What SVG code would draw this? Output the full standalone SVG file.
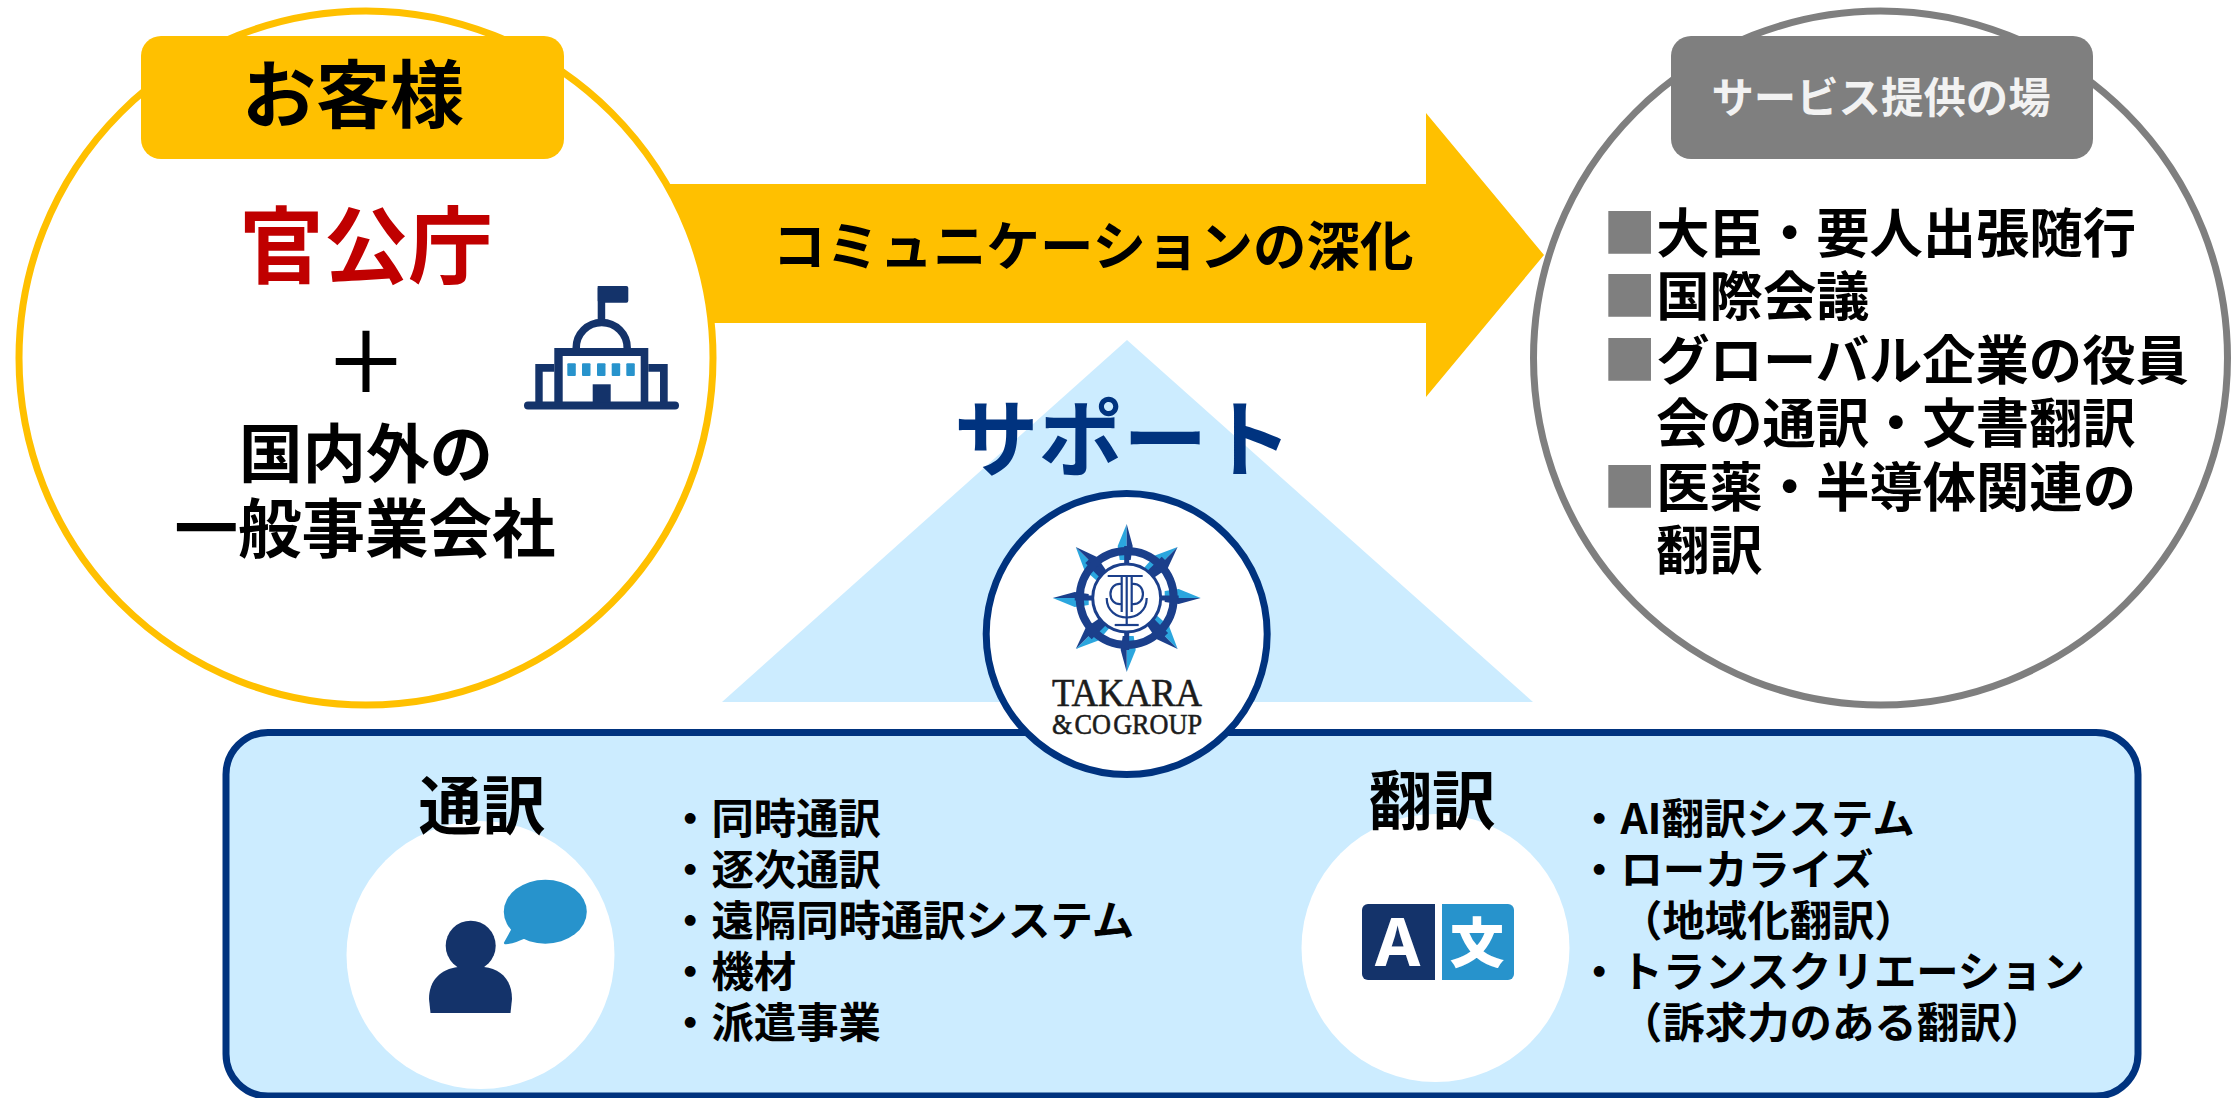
<svg xmlns="http://www.w3.org/2000/svg" width="2232" height="1098" viewBox="0 0 2232 1098">
<style>
text{font-family:"Noto Sans CJK JP","Noto Sans",sans-serif;font-weight:700;fill:#000}
.m{text-anchor:middle}
.l{font-size:42.4px}
.r{font-size:53.3px}
.g{fill:#7F7F7F}
.navy{fill:#14336A}
.blue{fill:#2793CC}
.lk{fill:#1B3F8B}
.ll{fill:#2BA6DE}
.serif{font-family:"Liberation Serif",serif;font-weight:400;fill:#1c1c1c;stroke:#1c1c1c;stroke-width:.6px}
</style>
<defs>
<g id="spoke"><polygon class="ll" points="0,-74 -9,-52 -7,-38 0,-38"/><polygon class="lk" points="0,-74 6,-52 4,-38 0,-38"/><rect class="lk" x="-2.500" y="-52" width="5" height="18"/></g>
<g id="diag"><polygon class="ll" points="0,-72 -10,-50 -9,-34 0,-34"/><polygon class="lk" points="0,-72 8,-50 5,-34 0,-34"/><rect class="lk" x="-4.500" y="-54" width="9" height="20"/></g>
</defs>
<rect width="2232" height="1098" fill="#fff"/>
<g id="connectors">
<polygon id="arrow" fill="#FFC000" points="660,184 1426,184 1426,113 1544,255 1426,397 1426,323 660,323"/>
</g>
<g id="customer">
<circle cx="366" cy="358" r="347" fill="#fff" stroke="#FFC000" stroke-width="7"/>
<rect x="141" y="36" width="423" height="123" rx="20" fill="#FFC000"/>
<text class="m" x="353" y="122" style="font-size:74px">お客様</text>
<text class="m" x="366" y="277" style="font-size:84.5px;fill:#C00000">官公庁</text>
<text class="m" x="366" y="393" style="font-size:84px;font-weight:500">＋</text>
<text class="m" x="366" y="477" style="font-size:63.500px">国内外の</text>
<text class="m" x="365" y="552" style="font-size:63.500px">一般事業会社</text>
<g id="building-icon">
<rect class="navy" x="597.7" y="286" width="7.5" height="36"/>
<rect class="navy" x="597.7" y="286" width="30.6" height="16.7" rx="2"/>
<path d="M576.2 348A25.5 25.5 0 0 1 627.2 348" fill="none" stroke="#14336A" stroke-width="7.5"/>
<path class="navy" fill-rule="evenodd" d="M554.3 348H648.3V402H554.3ZM562.7 356V402H640.7V356Z"/>
<path class="navy" fill-rule="evenodd" d="M535.3 364H554.3V402H535.3ZM542.7 371.7V402H554.3V371.7Z"/>
<path class="navy" fill-rule="evenodd" d="M648.3 364H667.7V402H648.3ZM648.3 371.7V402H660V371.7Z"/>
<rect class="navy" x="524" y="401.5" width="155" height="8" rx="4"/>
<rect class="navy" x="592.7" y="384.3" width="18" height="18"/>
<rect class="blue" x="567.3" y="363.3" width="8.5" height="12.7" rx="1"/>
<rect class="blue" x="582" y="363.3" width="8.5" height="12.7" rx="1"/>
<rect class="blue" x="597" y="363.3" width="8.5" height="12.7" rx="1"/>
<rect class="blue" x="611.7" y="363.3" width="8.5" height="12.7" rx="1"/>
<rect class="blue" x="626.3" y="363.3" width="8.5" height="12.7" rx="1"/>
</g>
</g>
<g id="venue">
<circle cx="1880.5" cy="358" r="347" fill="#fff" stroke="#7F7F7F" stroke-width="7"/>
<rect x="1671" y="36" width="422" height="123" rx="20" fill="#7F7F7F"/>
<text class="m" x="1881" y="113" style="font-size:42.4px;fill:#F2F2F2">サービス提供の場</text>
<text class="r" x="1603" y="253"><tspan class="g">■</tspan>大臣・要人出張随行</text>
<text class="r" x="1603" y="316"><tspan class="g">■</tspan>国際会議</text>
<text class="r" x="1603" y="380"><tspan class="g">■</tspan>グローバル企業の役員</text>
<text class="r" x="1656" y="443">会の通訳・文書翻訳</text>
<text class="r" x="1603" y="507"><tspan class="g">■</tspan>医薬・半導体関連の</text>
<text class="r" x="1656" y="570">翻訳</text>
</g>
<g id="comm-label">
<text class="m" x="1093" y="266" style="font-size:53.5px">コミュニケーションの深化</text>
</g>
<g id="support">
<polygon fill="#CCECFF" points="1127,340 1533,702 722,702"/>
<text class="m" x="1123" y="470" style="font-size:84.5px;fill:#00337F">サポート</text>
</g>
<g id="panel">
<rect x="226" y="732.5" width="1912" height="363.500" rx="42" fill="#CCECFF" stroke="#00337F" stroke-width="7"/>
</g>
<g id="logo">
<circle cx="1126.7" cy="634" r="140.500" fill="#fff" stroke="#00337F" stroke-width="7"/>
<g transform="translate(1126.7 598)">
<use href="#spoke"/><use href="#spoke" transform="rotate(90)"/><use href="#spoke" transform="rotate(180)"/><use href="#spoke" transform="rotate(270)"/>
<use href="#diag" transform="rotate(45)"/><use href="#diag" transform="rotate(135)"/><use href="#diag" transform="rotate(225)"/><use href="#diag" transform="rotate(315)"/>
<circle r="47" fill="none" stroke="#1B3F8B" stroke-width="8"/>
<circle r="34" fill="#fff" stroke="#1B3F8B" stroke-width="3"/>
<g fill="none" stroke="#1B3F8B" stroke-width="2.2">
<path d="M-19 -22H16M0 -22V26M-5 -22V14M5 -22V14"/>
<path d="M-5 -14C-20 -16 -20 8 -5 6M5 -14C20 -16 20 8 5 6"/>
<path d="M-20 0C-20 26 20 26 20 0"/>
<path d="M-12 27H12"/>
</g>
</g>
<text class="serif" x="1052" y="706" textLength="150" lengthAdjust="spacingAndGlyphs" style="font-size:41px">TAKARA</text>
<text class="serif" x="1052" y="734" textLength="150" lengthAdjust="spacingAndGlyphs" style="font-size:30px;word-spacing:-5px">&amp; CO GROUP</text>
</g>
<g id="interp">
<circle cx="480.500" cy="955" r="134" fill="#fff"/>
<text class="m" x="482" y="829" style="font-size:63.500px">通訳</text>
<g id="person-icon">
<circle class="navy" cx="470.7" cy="945.7" r="25"/>
<path class="navy" d="M429 999C429 980 441 969 458 967H484C501 969 512 980 512 999L510.500 1013H430.500Z"/>
<ellipse class="blue" cx="545.300" cy="911.700" rx="41.500" ry="32"/>
<path class="blue" d="M512 928L504 942.500C503.500 944 505 944.500 506 944.300C513 943.500 518 941.500 525 938.500Z"/>
</g>
<text class="l" x="669" y="834">・同時通訳</text>
<text class="l" x="669" y="885">・逐次通訳</text>
<text class="l" x="669" y="936">・遠隔同時通訳システム</text>
<text class="l" x="669" y="987">・機材</text>
<text class="l" x="669" y="1038">・派遣事業</text>
</g>
<g id="trans">
<circle cx="1435.500" cy="948" r="134" fill="#fff"/>
<text class="m" x="1432" y="824" style="font-size:63.500px">翻訳</text>
<g id="translate-icon">
<path class="navy" d="M1368 904H1435V980H1368A6 6 0 0 1 1362 974V910A6 6 0 0 1 1368 904Z"/>
<path class="blue" d="M1442 904H1508A6 6 0 0 1 1514 910V974A6 6 0 0 1 1508 980H1442Z"/>
<text class="m" x="1397.500" y="966" style="font-family:'Noto Sans',sans-serif;font-size:66px;fill:#fff">A</text>
<text class="m" x="1477" y="962" style="font-size:52px;fill:#fff;stroke:#fff;stroke-width:2px">文</text>
</g>
<text class="l" x="1578" y="834">・AI翻訳システム</text>
<text class="l" x="1578" y="885">・ローカライズ</text>
<text class="l" x="1620" y="936">（地域化翻訳）</text>
<text class="l" x="1578" y="987">・トランスクリエーション</text>
<text class="l" x="1620" y="1038">（訴求力のある翻訳）</text>
</g>
</svg>
